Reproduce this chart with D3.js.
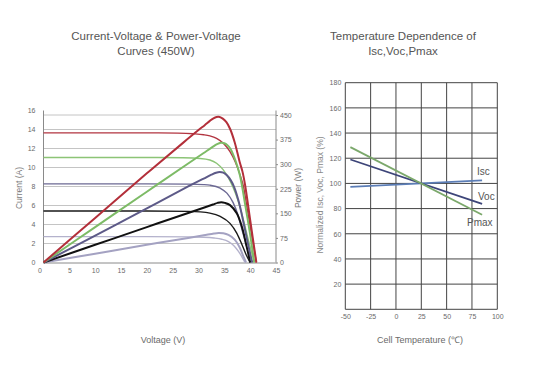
<!DOCTYPE html>
<html>
<head>
<meta charset="utf-8">
<script src="https://d3js.org/d3.v7.min.js"></script>
<style>
  body { margin: 0; background: #fff; }
  text { font-family: "Liberation Sans", Arial, sans-serif; }
</style>
</head>
<body>
<svg id="chart" width="548" height="374"></svg>
<script>
// ---- left chart data: [voltage, current] and [voltage, power]
var voltTicks = [0, 5, 10, 15, 20, 25, 30, 35, 40, 45];
var currTicks = [0, 2, 4, 6, 8, 10, 12, 14, 16];
var powTicks = [0, 75, 150, 225, 300, 375, 450];

var redIV = [[0,13.65],[20,13.65],[26,13.62],[29,13.55],[31,13.45],[32.2,13.33],[33.5,13.07],[34.8,12.55],[36.1,11.66],[37.1,10.6],[38,9.3],[38.7,8.0],[39.5,5.4],[40.3,2.9],[41.2,0]];
var redPV = [[0,0],[10,136],[20,272],[27,365],[30,404],[31.2,419],[32.2,432],[32.9,440],[33.5,444],[34.1,444],[34.7,439],[35.4,428],[36.1,408],[37,367],[38,305],[38.5,278],[39,238],[40,130],[41.2,0]];
var greenIV = [[0,11.05],[20,11.05],[27,11.02],[30.3,10.95],[32.2,10.79],[33.5,10.45],[34.8,9.75],[35.8,8.9],[36.7,7.9],[37.6,6.6],[38.5,4.9],[39.5,2.7],[40.8,0]];
var greenPV = [[0,0],[10,108],[20,216],[28,302],[31,334],[32.6,351],[33.6,361],[34.3,365],[35,364],[35.6,358],[36.2,346],[37.1,313],[38,267],[39,180],[40,85],[40.8,0]];
var purpleIV = [[0,8.28],[20,8.28],[28,8.25],[31,8.2],[32.2,8.14],[34.2,7.82],[35.5,7.3],[36.7,6.3],[37.7,4.9],[38.4,3.5],[39.2,1.9],[40.4,0]];
var purplePV = [[0,0],[10,82],[20,165],[28,232],[31,256],[32.5,268],[33.4,274],[34.1,276],[34.8,274],[35.5,266],[36.2,252],[36.9,230],[37.8,185],[38.8,115],[39.6,55],[40.4,0]];
var blackIV = [[0,5.42],[20,5.42],[28,5.38],[30.3,5.33],[32.2,5.2],[34.2,4.85],[36.1,4.12],[37.4,3.1],[38.4,1.9],[39.2,0.85],[40,0]];
var blackPV = [[0,0],[10,54],[20,108],[28,151],[31,167],[32.8,177],[33.7,182],[34.4,184],[35.1,182],[36.1,175],[37.4,150],[38.4,109],[39.3,50],[40,0]];
var lightIV = [[0,2.72],[20,2.72],[28,2.7],[31,2.66],[33,2.58],[34.5,2.45],[35.8,2.2],[36.8,1.8],[37.7,1.2],[38.4,0.6],[39,0]];
var lightPV = [[0,0],[10,27],[20,54],[28,75],[31,83],[33,88.5],[33.9,90],[34.8,89],[35.8,84],[37,70],[38,45],[38.6,22],[39.2,0]];

// ---- right chart data
var tempTicks = [-50, -25, 0, 25, 50, 75, 100];
var normTicks = [20, 40, 60, 80, 100, 120, 140, 160, 180];
var tempPts = [-45, 85];
var iscVals = [97.3, 102.4];
var vocVals = [119, 83.8];
var pmaxVals = [128.8, 75.1];

var svg = d3.select("#chart");
var plain = function(d){ return String(d); };

// ===== left chart =====
var x = d3.scaleLinear().domain([0, 45]).range([43.5, 276]);
var yI = d3.scaleLinear().domain([0, 16]).range([262.5, 110.5]);
var yP = d3.scaleLinear().domain([0, 450]).range([262.5, 115]);

var left = svg.append("g");

// grid
left.selectAll(".grid").data(currTicks.filter(function(d){ return d > 0 && d < 16; }))
  .enter().append("line")
  .attr("x1", x(0)).attr("x2", x(45))
  .attr("y1", function(d){ return yI(d); }).attr("y2", function(d){ return yI(d); })
  .attr("stroke", "#c4c4c4").attr("stroke-width", 1);
left.append("line").attr("x1", x(0)).attr("x2", x(45))
  .attr("y1", yP(450)).attr("y2", yP(450))
  .attr("stroke", "#c4c4c4");

var gx = left.append("g").attr("transform", "translate(0," + yI(0) + ")")
  .call(d3.axisBottom(x).tickValues(voltTicks).tickFormat(plain).tickSize(0).tickPadding(6));
var gy = left.append("g").attr("transform", "translate(" + x(0) + ",0)")
  .call(d3.axisLeft(yI).tickValues(currTicks).tickFormat(plain).tickSize(0).tickPadding(8));
var gp = left.append("g").attr("transform", "translate(" + x(45) + ",0)")
  .call(d3.axisRight(yP).tickValues(powTicks).tickFormat(plain).tickSize(2).tickPadding(2));

[gx, gy, gp].forEach(function(g){
  g.select(".domain").attr("stroke", "#8a8a8a");
  g.selectAll(".tick line").attr("stroke", "#8a8a8a");
  g.selectAll("text").attr("fill", "#6a6a6a").style("font-size", "7px");
});
gy.select(".domain").attr("d", "M0," + yI(16) + "V" + yI(0));
gp.select(".domain").attr("d", "M0," + yI(16) + "V" + yI(0));
gx.selectAll(".tick text").filter(function(d){ return d === 0; }).attr("dx", -4);

var lineIV = d3.line().x(function(d){ return x(d[0]); }).y(function(d){ return yI(d[1]); }).curve(d3.curveMonotoneX);
var linePV = d3.line().x(function(d){ return x(d[0]); }).y(function(d){ return yP(d[1]); }).curve(d3.curveCatmullRom.alpha(0.5));

var curves = [
  { iv: lightIV, pv: lightPV, c: "#a4a2c2", ci: "#b4b2cc" },
  { iv: blackIV, pv: blackPV, c: "#111111", ci: "#1a1a1a" },
  { iv: purpleIV, pv: purplePV, c: "#5d5a88", ci: "#6c6994" },
  { iv: greenIV, pv: greenPV, c: "#7dbb66", ci: "#8cc476" },
  { iv: redIV, pv: redPV, c: "#b32f3a", ci: "#b23440" }
];
curves.forEach(function(s){
  left.append("path").attr("d", lineIV(s.iv)).attr("fill", "none")
    .attr("stroke", s.ci).attr("stroke-width", 1.4);
});
curves.forEach(function(s){
  left.append("path").attr("d", linePV(s.pv)).attr("fill", "none")
    .attr("stroke", s.c).attr("stroke-width", 2);
});

left.append("text").attr("x", 156).attr("y", 40).attr("text-anchor", "middle")
  .attr("fill", "#555").style("font-size", "11.5px").text("Current-Voltage & Power-Voltage");
left.append("text").attr("x", 156).attr("y", 55).attr("text-anchor", "middle")
  .attr("fill", "#555").style("font-size", "11.5px").text("Curves (450W)");
left.append("text").attr("transform", "translate(22,188) rotate(-90)").attr("text-anchor", "middle")
  .attr("fill", "#7a7a7a").style("font-size", "8.5px").text("Current (A)");
left.append("text").attr("transform", "translate(301,188) rotate(-90)").attr("text-anchor", "middle")
  .attr("fill", "#7a7a7a").style("font-size", "8.5px").text("Power (W)");
left.append("text").attr("x", 163).attr("y", 343).attr("text-anchor", "middle")
  .attr("fill", "#6a6a6a").style("font-size", "9px").text("Voltage (V)");

// ===== right chart =====
var xt = d3.scaleLinear().domain([-50, 100]).range([345.3, 497.3]);
var yn = d3.scaleLinear().domain([0, 180]).range([309.3, 82.7]);
var right = svg.append("g");

right.selectAll(".vg").data(tempTicks).enter().append("line")
  .attr("x1", function(d){ return xt(d); }).attr("x2", function(d){ return xt(d); })
  .attr("y1", yn(180)).attr("y2", yn(0))
  .attr("stroke", "#444").attr("stroke-width", 1);
right.selectAll(".hg").data([0].concat(normTicks)).enter().append("line")
  .attr("x1", xt(-50)).attr("x2", xt(100))
  .attr("y1", function(d){ return yn(d); }).attr("y2", function(d){ return yn(d); })
  .attr("stroke", "#444").attr("stroke-width", 1);

var rx = right.append("g").attr("transform", "translate(0," + yn(0) + ")")
  .call(d3.axisBottom(xt).tickValues(tempTicks).tickFormat(plain).tickSize(0).tickPadding(5));
var ry = right.append("g").attr("transform", "translate(" + xt(-50) + ",0)")
  .call(d3.axisLeft(yn).tickValues(normTicks).tickFormat(plain).tickSize(0).tickPadding(4));
[rx, ry].forEach(function(g){
  g.select(".domain").remove();
  g.selectAll("text").attr("fill", "#6a6a6a").style("font-size", "7px");
});

var tline = d3.line().x(function(d){ return xt(d[0]); }).y(function(d){ return yn(d[1]); });
var tseries = [
  { name: "Isc", vals: iscVals, c: "#5b7db6", lx: 477, ly: 174.5 },
  { name: "Voc", vals: vocVals, c: "#3d4579", lx: 478, ly: 199.5 },
  { name: "Pmax", vals: pmaxVals, c: "#7ba86b", lx: 467, ly: 226 }
];
tseries.forEach(function(s){
  right.append("path").attr("d", tline(tempPts.map(function(t, i){ return [t, s.vals[i]]; })))
    .attr("fill", "none").attr("stroke", s.c).attr("stroke-width", 1.8);
});
tseries.forEach(function(s){
  right.append("text").attr("x", s.lx).attr("y", s.ly)
    .attr("fill", "#555").style("font-size", "10px").text(s.name);
});

right.append("text").attr("x", 403).attr("y", 40).attr("text-anchor", "middle")
  .attr("fill", "#555").style("font-size", "11.5px").text("Temperature Dependence of");
right.append("text").attr("x", 403).attr("y", 55).attr("text-anchor", "middle")
  .attr("fill", "#555").style("font-size", "11.5px").text("Isc,Voc,Pmax");
right.append("text").attr("transform", "translate(323,195) rotate(-90)").attr("text-anchor", "middle")
  .attr("fill", "#8a8a8a").style("font-size", "8.5px").text("Normalized Isc, Voc, Pmax (%)");
right.append("text").attr("x", 420).attr("y", 343).attr("text-anchor", "middle")
  .attr("fill", "#6a6a6a").style("font-size", "9px").text("Cell Temperature (℃)");
</script>
</body>
</html>
